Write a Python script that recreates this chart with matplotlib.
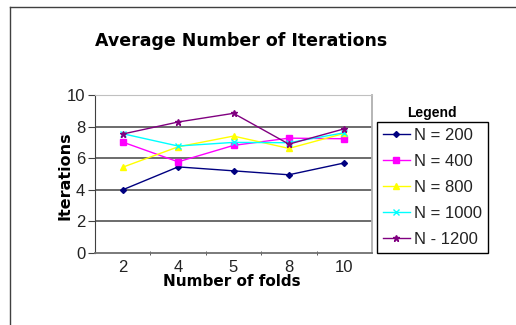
import matplotlib
matplotlib.use("Agg")
import matplotlib.pyplot as plt
from matplotlib.lines import Line2D

folds = ["2", "4", "5", "8", "10"]
n200 = [4.0, 5.45, 5.2, 4.95, 5.7]
n400 = [7.02, 5.77, 6.81, 7.27, 7.23]
n800 = [5.43, 6.72, 7.4, 6.62, 7.57]
n1000 = [7.55, 6.77, 7.0, 6.98, 7.61]
n1200 = [7.53, 8.29, 8.84, 6.89, 7.86]
labels = ["N = 200", "N = 400", "N = 800", "N = 1000", "N - 1200"]
yticks = [0, 2, 4, 6, 8, 10]

series = [n200, n400, n800, n1000, n1200]
colors = ["#000080", "#FF00FF", "#FFFF00", "#00FFFF", "#800080"]
markers = ["D", "s", "^", "x", "*"]
msizes = [3, 4, 4.5, 4, 4.5]

plt.rcParams['font.family'] = ['Liberation Sans', 'DejaVu Sans']

fig = plt.figure(figsize=(5.16, 3.25), dpi=100)
ax = fig.add_axes([95/516, 1-253/325, (372-95)/516, (253-95)/325])

x = list(range(len(folds)))
for s, c, m, ms, lab in zip(series, colors, markers, msizes, labels):
    ax.plot(x, s, color=c, marker=m, markersize=ms, linewidth=1, label=lab,
            markeredgecolor=c, markerfacecolor=c, markeredgewidth=1)

ax.set_xlim(-0.5, len(folds) - 0.5)
ax.set_ylim(0, 10)
ax.set_xticks(x)
ax.set_xticklabels(folds, fontsize=12, color="#222222")
ax.set_xticks([i + 0.5 for i in x[:-1]], minor=True)
ax.tick_params(axis='x', which='major', length=0, pad=5)
ax.tick_params(axis='x', which='minor', length=3, direction='inout', color='#404040')
ax.set_yticks(yticks)
ax.set_yticklabels([str(v) for v in yticks], fontsize=12, color="#222222")
ax.tick_params(axis='y', length=5, direction='out', color='#404040', pad=2)

for v in yticks[1:-1]:
    ax.axhline(v, color="#606060", linewidth=1.3, zorder=0)

ax.spines['left'].set_color('#404040')
ax.spines['bottom'].set_color('#707070')
ax.spines['bottom'].set_linewidth(1.3)
ax.spines['top'].set_color('#c0c0c0')
ax.spines['right'].set_color('#b0b0b0')
ax.spines['right'].set_linewidth(1.3)

fig.text(65/516, 1-176/325, "Iterations", fontsize=11.5, fontweight='bold',
         family=['DejaVu Sans'], rotation=90, ha='center', va='center')
fig.text(232/516, 1-282/325, "Number of folds", fontsize=11, fontweight='bold',
         family=['DejaVu Sans'], ha='center', va='center')

fig.text(241/516, 1-41/325, "Average Number of Iterations", fontsize=12.5,
         fontweight='bold', family=['DejaVu Sans'], ha='center', va='center')

leg = ax.legend(loc='upper left', bbox_to_anchor=(377/516, 1-122/325),
                bbox_transform=fig.transFigure, fontsize=12, frameon=True,
                fancybox=False, edgecolor='black', framealpha=1,
                borderaxespad=0, handlelength=1.6, handletextpad=0.3,
                labelspacing=0.66, borderpad=0.35)
leg.get_frame().set_linewidth(1)
for t in leg.get_texts():
    t.set_color("#222222")

fig.text(432/516, 1-113/325, "Legend", fontsize=10, fontweight='bold',
         ha='center', va='center')

fig.add_artist(Line2D([10/516, 10/516], [0, 1-7/325], transform=fig.transFigure,
                      color='#404040', linewidth=1))
fig.add_artist(Line2D([10/516, 1], [1-7/325, 1-7/325], transform=fig.transFigure,
                      color='#404040', linewidth=1))

fig.savefig("out.png", dpi=100)
